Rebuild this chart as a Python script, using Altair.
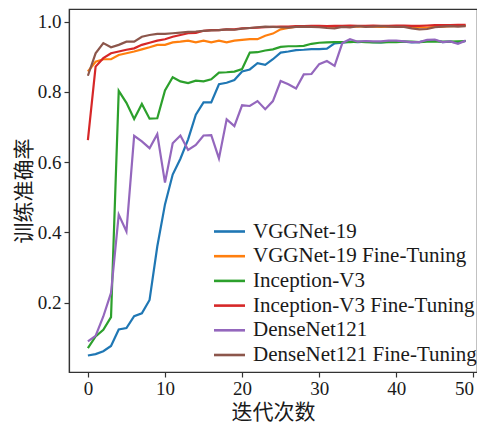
import altair as alt
import pandas as pd

epochs = list(range(50))

series_names = [
    "VGGNet-19",
    "VGGNet-19 Fine-Tuning",
    "Inception-V3",
    "Inception-V3 Fine-Tuning",
    "DenseNet121",
    "DenseNet121 Fine-Tuning",
]
series_colors = ["#1f77b4", "#ff7f0e", "#2ca02c", "#d62728", "#9467bd", "#8c564b"]

vgg = [0.050, 0.054, 0.062, 0.077, 0.124, 0.128, 0.162, 0.170, 0.208, 0.360,
       0.480, 0.565, 0.610, 0.665, 0.735, 0.770, 0.770, 0.822, 0.826, 0.834,
       0.858, 0.864, 0.882, 0.877, 0.893, 0.912, 0.915, 0.919, 0.920, 0.922,
       0.922, 0.923, 0.938, 0.940, 0.943, 0.942, 0.943, 0.942, 0.941, 0.943,
       0.944, 0.943, 0.941, 0.942, 0.946, 0.947, 0.942, 0.943, 0.940, 0.945]

vgg_ft = [0.858, 0.886, 0.893, 0.893, 0.905, 0.910, 0.915, 0.921, 0.927, 0.934,
          0.934, 0.941, 0.943, 0.946, 0.941, 0.946, 0.941, 0.946, 0.941, 0.946,
          0.948, 0.950, 0.950, 0.960, 0.966, 0.978, 0.982, 0.986, 0.985, 0.987,
          0.987, 0.986, 0.986, 0.987, 0.986, 0.986, 0.987, 0.986, 0.985, 0.986,
          0.986, 0.985, 0.985, 0.984, 0.983, 0.985, 0.986, 0.987, 0.988, 0.988]

inception = [0.071, 0.104, 0.123, 0.159, 0.803, 0.769, 0.723, 0.766, 0.724, 0.725,
             0.804, 0.842, 0.830, 0.825, 0.832, 0.830, 0.836, 0.855, 0.856, 0.858,
             0.865, 0.912, 0.913, 0.918, 0.921, 0.928, 0.930, 0.930, 0.931, 0.937,
             0.940, 0.941, 0.942, 0.942, 0.942, 0.943, 0.942, 0.941, 0.941, 0.942,
             0.942, 0.943, 0.943, 0.942, 0.943, 0.944, 0.943, 0.943, 0.944, 0.945]

inception_ft = [0.663, 0.872, 0.896, 0.910, 0.915, 0.920, 0.924, 0.934, 0.940, 0.946,
                0.950, 0.957, 0.962, 0.967, 0.968, 0.974, 0.976, 0.976, 0.978, 0.978,
                0.981, 0.982, 0.983, 0.984, 0.985, 0.986, 0.986, 0.987, 0.987, 0.988,
                0.988, 0.987, 0.988, 0.988, 0.989, 0.988, 0.988, 0.989, 0.988, 0.988,
                0.989, 0.989, 0.988, 0.988, 0.989, 0.990, 0.990, 0.990, 0.991, 0.991]

densenet = [0.090, 0.106, 0.161, 0.228, 0.451, 0.403, 0.675, 0.659, 0.640, 0.680,
            0.542, 0.654, 0.676, 0.635, 0.649, 0.676, 0.677, 0.611, 0.722, 0.703,
            0.762, 0.760, 0.774, 0.751, 0.774, 0.831, 0.822, 0.810, 0.850, 0.851,
            0.879, 0.888, 0.874, 0.939, 0.950, 0.943, 0.945, 0.944, 0.944, 0.946,
            0.946, 0.944, 0.942, 0.942, 0.948, 0.949, 0.942, 0.944, 0.937, 0.946]

densenet_ft = [0.846, 0.910, 0.939, 0.927, 0.934, 0.943, 0.943, 0.957, 0.962, 0.965,
               0.965, 0.967, 0.969, 0.971, 0.972, 0.974, 0.975, 0.976, 0.978, 0.977,
               0.980, 0.982, 0.984, 0.986, 0.985, 0.984, 0.983, 0.985, 0.986, 0.985,
               0.984, 0.982, 0.981, 0.985, 0.984, 0.987, 0.985, 0.986, 0.987, 0.986,
               0.985, 0.985, 0.981, 0.978, 0.979, 0.984, 0.986, 0.987, 0.986, 0.987]

x_ticks = [0, 10, 20, 30, 40, 50]
y_ticks = [0.2, 0.4, 0.6, 0.8, 1.0]

all_values = [vgg, vgg_ft, inception, inception_ft, densenet, densenet_ft]
rows = []
for order, (name, vals) in enumerate(zip(series_names, all_values)):
    for e, v in zip(epochs, vals):
        rows.append({"epoch": e, "acc": v, "model": name, "order": order})
df = pd.DataFrame(rows)

serif = "Liberation Serif"
cjk = "Noto Sans CJK SC"

chart = alt.Chart(df).mark_line(strokeWidth=2.2, clip=True).encode(
    x=alt.X("epoch:Q",
            scale=alt.Scale(domain=[-2.45, 50.47], nice=False, zero=False),
            axis=alt.Axis(values=x_ticks, title="迭代次数", format="d",
                          labelFlush=5)),
    y=alt.Y("acc:Q",
            scale=alt.Scale(domain=[0.003, 1.036], nice=False, zero=False),
            axis=alt.Axis(values=y_ticks, title="训练准确率", format=".1f")),
    color=alt.Color("model:N",
                    scale=alt.Scale(domain=series_names, range=series_colors),
                    sort=series_names,
                    legend=alt.Legend(
                        title=None, orient="none", legendX=149, legendY=211,
                        symbolType="M-1.55,0L1.55,0", symbolSize=400,
                        symbolStrokeWidth=2.6, labelFont=serif, labelFontSize=21,
                        labelColor="#1a1a1a", labelOffset=12, rowPadding=2.7,
                        padding=0, labelLimit=400)),
    order=alt.Order("order:Q"),
    detail="model:N",
).properties(
    width=408, height=363,
    autosize=alt.AutoSizeParams(type="none"),
    padding={"left": 61, "top": 1, "right": 0, "bottom": 54},
).configure_view(
    stroke="#333333", strokeWidth=1.2
).configure_axis(
    grid=False, domainColor="#333333", domainWidth=1.2,
    tickColor="#333333", tickSize=5, tickWidth=1.2,
    labelFont=serif, labelFontSize=19, labelColor="#1a1a1a", labelPadding=3,
    titleFont=cjk, titleFontSize=21, titleFontWeight="normal", titleColor="#1a1a1a",
).configure_axisX(
    titlePadding=3, labelPadding=2
).configure_axisY(
    titlePadding=3
)

chart.save("out.html", embed_options={"renderer": "svg", "actions": False})
